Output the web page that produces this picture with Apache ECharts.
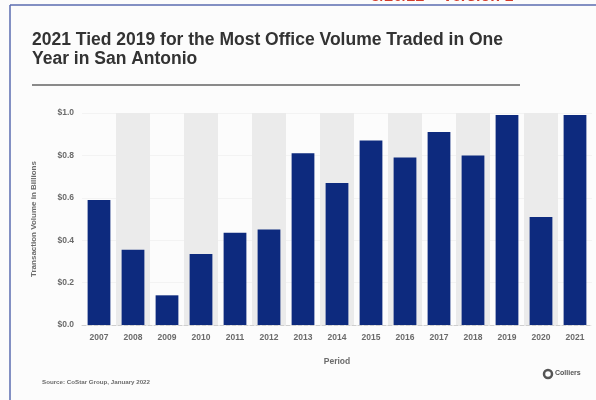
<!DOCTYPE html>
<html>
<head>
<meta charset="utf-8">
<script src="https://cdn.jsdelivr.net/npm/echarts@6/dist/echarts.min.js"></script>
<style>
  html, body { margin: 0; padding: 0; background: #fcfcfc; }
  #chart { width: 596px; height: 400px; }
</style>
</head>
<body>
<div id="chart"></div>
<script>
// Office transaction volume in San Antonio, billions of dollars
const years = ['2007', '2008', '2009', '2010', '2011', '2012', '2013', '2014',
               '2015', '2016', '2017', '2018', '2019', '2020', '2021'];
const volume = [0.59, 0.355, 0.14, 0.335, 0.435, 0.45, 0.81, 0.67,
                0.87, 0.79, 0.91, 0.80, 0.99, 0.51, 0.99];
const yTicks = [0, 0.2, 0.4, 0.6, 0.8, 1.0];

const titleText = '2021 Tied 2019 for the Most Office Volume Traded in One\nYear in San Antonio';
const sourceText = 'Source: CoStar Group, January 2022';
const stampText = '5/20/22 \u2013 Version 1';

const chart = echarts.init(document.getElementById('chart'));
const font = (size) => ({ color: '#6b6b6b', fontSize: size, fontWeight: 'bold', fontFamily: 'Liberation Sans' });

chart.setOption({
  backgroundColor: '#fcfcfc',
  animation: false,
  title: {
    text: titleText,
    left: 32, top: 31,
    padding: 0,
    textStyle: { color: '#333', fontSize: 17.5, fontWeight: 'bold', fontFamily: 'Liberation Sans', lineHeight: 19 }
  },
  grid: { left: 82, right: 4, top: 113, bottom: 75 },
  xAxis: {
    type: 'category',
    data: years,
    name: 'Period',
    nameLocation: 'middle',
    nameGap: 32,
    nameTextStyle: font(8.5),
    axisLine: { show: true, lineStyle: { color: '#cfcfcf', type: 'dashed', width: 1 } },
    axisTick: { show: false },
    axisLabel: Object.assign({ margin: 8 }, font(8.5)),
    splitArea: { show: true, areaStyle: { color: ['rgba(0,0,0,0)', '#ebebeb'] } }
  },
  yAxis: {
    type: 'value',
    min: 0, max: 1.0, interval: 0.2,
    name: 'Transaction Volume in Billions',
    nameLocation: 'middle',
    nameGap: 44,
    nameRotate: 90,
    nameTextStyle: font(8),
    axisLine: { show: false },
    axisTick: { show: false },
    axisLabel: Object.assign({
      margin: 8,
      formatter: v => yTicks.some(t => Math.abs(t - v) < 1e-9) ? '$' + v.toFixed(1) : ''
    }, font(8.5)),
    splitLine: { show: true, lineStyle: { color: '#f3f3f3', width: 1 } }
  },
  series: [{
    type: 'bar',
    data: volume,
    barWidth: '67%',
    itemStyle: { color: '#0d2a7e' }
  }],
  graphic: [
    // page frame
    { type: 'line', shape: { x1: 10, y1: 5, x2: 596, y2: 5 }, style: { stroke: '#5b6db0', lineWidth: 1.5 } },
    { type: 'line', shape: { x1: 10, y1: 5, x2: 10, y2: 400 }, style: { stroke: '#5b6db0', lineWidth: 1.5 } },
    // revision stamp, clipped at the page top
    { type: 'text', left: 371, top: -11, style: { text: stampText, fill: '#d23a2a', font: 'bold 16px "Liberation Sans"' } },
    // rule under the title
    { type: 'line', shape: { x1: 32, y1: 85, x2: 520, y2: 85 }, style: { stroke: '#8a8a8a', lineWidth: 2 } },
    // source note
    { type: 'text', left: 42, top: 379, style: { text: sourceText, fill: '#6b6b6b', font: 'bold 6.2px "Liberation Sans"' } },
    // Colliers mark
    { type: 'circle', shape: { cx: 548, cy: 374, r: 4 }, style: { fill: 'none', stroke: '#555', lineWidth: 2.5 } },
    { type: 'text', left: 555, top: 370, style: { text: 'Colliers', fill: '#555', font: 'bold 7px "Liberation Sans"' } }
  ]
});
</script>
</body>
</html>
